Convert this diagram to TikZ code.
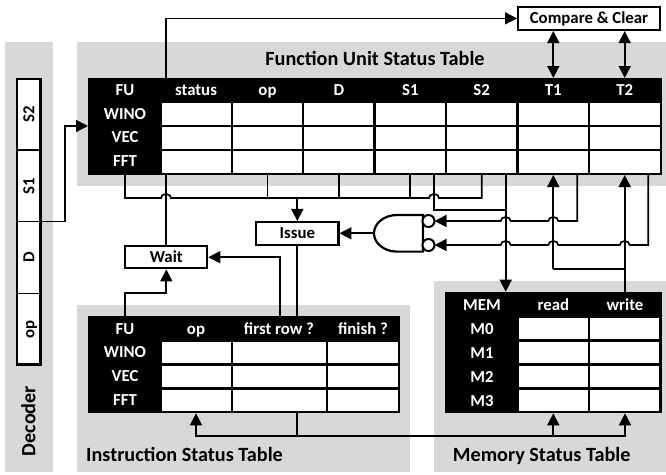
\documentclass[tikz,border=0pt]{standalone}
\usepackage{fontspec}
\setmainfont{Carlito}[BoldFont={Carlito Bold}]
\usetikzlibrary{arrows.meta,calc}
\definecolor{panel}{RGB}{216,216,216}
\tikzset{
  panelbox/.style={fill=panel,draw=none,inner sep=0pt,outer sep=0pt},
  wire/.style={line width=1.7pt,black},
  tipend/.style={wire,-{Triangle[length=12pt,width=12pt]}},
  tipboth/.style={wire,{Triangle[length=12pt,width=12pt]}-{Triangle[length=12pt,width=12pt]}},
  ctrlbox/.style={draw=black,line width=2.2pt,fill=white,inner sep=0pt,outer sep=1pt,text height=10.6pt,text depth=0pt,font=\fontsize{16.8}{17}\selectfont\bfseries},
  headtext/.style={white,inner sep=0pt,text height=10.6pt,text depth=0pt,font=\fontsize{16.8}{17}\selectfont\bfseries},
  titletext/.style={black,inner sep=0pt,text height=12.8pt,text depth=0pt,font=\fontsize{20.2}{21}\selectfont\bfseries},
  dectext/.style={black,inner sep=0pt,rotate=90,text height=10.6pt,text depth=0pt,font=\fontsize{16.8}{17}\selectfont\bfseries},
  blackbox/.style={fill=black,draw=none,inner sep=0pt,outer sep=0pt},
  cell/.style={fill=white,draw=none}
}
% hops over a vertical wire: #1 is the point of the crossing
\newcommand{\hopr}[1]{ -- ($(#1)+(-5,0)$) arc[start angle=180,end angle=360,x radius=5,y radius=4]}
\newcommand{\hopl}[1]{ -- ($(#1)+(5,0)$) arc[start angle=0,end angle=-180,x radius=5,y radius=4]}
\begin{document}
\begin{tikzpicture}[x=1pt,y=-1pt]
\useasboundingbox (0,0) rectangle (666,474);
\fill[white] (0,0) rectangle (666,474);
% panels
\fill[panelbox] (5,42) rectangle (53,472);
\fill[panelbox] (77,42) rectangle (666,186);
\fill[panelbox] (77,305) rectangle (410,472);
\fill[panelbox] (434,281) rectangle (666,472);
% FU table
\node[blackbox,minimum width=574pt,minimum height=97pt] (futab) at (375,126.5) {};
\foreach \xa/\xb in {161.7/230.7,233/302,304/373.3,375.7/445,447/516,518.5/588,590/660}
  \foreach \ya/\yb in {103/125,127/149,151/173}
    \fill[cell] (\xa,\ya) rectangle (\xb,\yb);
\foreach \n/\t/\x in {fa/FU/125,fb/status/196,fc/op/267.5,fd/D/339,fe/S1/410.3,ff/S2/481.7,fg/T1/553.3,fh/T2/624.7}
  \node[headtext] (\n) at (\x,90) {\t};
\node[headtext] (fw) at (125,114) {WINO};
\node[headtext] (fv) at (125,137.5) {VEC};
\node[headtext] (fft) at (125,161.5) {FFT};
% Instruction table
\node[blackbox,minimum width=312pt,minimum height=97.6pt] (intab) at (244,364.5) {};
\foreach \xa/\xb in {161.7/230.7,233/325.7,328.3/397.7}
  \foreach \ya/\yb in {341.7/363.3,365.7/387.3,389.7/411}
    \fill[cell] (\xa,\ya) rectangle (\xb,\yb);
\foreach \n/\t/\x in {ia/FU/125,ib/op/196,ic/first row ?/279,id/finish ?/363}
  \node[headtext] (\n) at (\x,329) {\t};
\node[headtext] (iw) at (125,352.5) {WINO};
\node[headtext] (iv) at (125,376.5) {VEC};
\node[headtext] (ift) at (125,400) {FFT};
% Memory table
\node[blackbox,minimum width=216.7pt,minimum height=121.6pt] (metab) at (553.35,352.5) {};
\foreach \xa/\xb in {519/587.7,590.3/659.3}
  \foreach \ya/\yb in {318.3/339.3,342/363,366/387,390/411}
    \fill[cell] (\xa,\ya) rectangle (\xb,\yb);
\foreach \n/\t/\x in {ma/MEM/482,mb/read/553.3,mc/write/625}
  \node[headtext] (\n) at (\x,305) {\t};
\foreach \n/\t/\y in {mz/M0/329,mo/M1/353,mt/M2/377,mh/M3/401}
  \node[headtext] (\n) at (482,\y) {\t};
% Titles
\node[titletext] (tfu) at (375,59) {Function Unit Status Table};
\node[titletext] (tis) at (184.5,455) {Instruction Status Table};
\node[titletext] (tms) at (541.7,455) {Memory Status Table};
\node[titletext,rotate=90] (tdec) at (29,421) {Decoder};
% Decoder
\draw[line width=2.2pt,fill=white] (17,79) rectangle (40.5,364.5);
\draw[wire] (17,150) -- (40.5,150) (17,221.5) -- (40.5,221.5) (17,293.5) -- (40.5,293.5);
\node[dectext] (ds2) at (29,114) {S2};
\node[dectext] (ds1) at (29,186) {S1};
\node[dectext] (dd) at (29,257.5) {D};
\node[dectext] (dop) at (29,329.5) {op};
\coordinate (dport) at (41,221.5);
% boxes
\node[ctrlbox,minimum width=142pt,minimum height=23.3pt] (cc) at (589,18.4) {Compare \& Clear};
\node[ctrlbox,minimum width=82.3pt,minimum height=22.7pt] (issue) at (297.3,233.3) {Issue};
\node[ctrlbox,minimum width=82pt,minimum height=22.3pt] (wait) at (166.3,257.2) {Wait};
% gate
\draw[line width=2.2pt,fill=white] (423,215) -- (397,215) arc[start angle=270,end angle=90,x radius=23,y radius=18.3] -- (423,251.6) -- cycle;
\coordinate (gateout) at (374,233.3);
\node[circle,draw,line width=2pt,fill=white,minimum size=12pt,inner sep=0pt,outer sep=0pt] (bubblea) at (428.5,221) {};
\node[circle,draw,line width=2pt,fill=white,minimum size=12pt,inner sep=0pt,outer sep=0pt] (bubbleb) at (428.5,245) {};
% ports
\coordinate (fustatus) at (166,78);
\coordinate (fustatusb) at (166,175);
\coordinate (fubusa) at (125,198);
\coordinate (fubusb) at (481.7,198);
\coordinate (crossa) at (166,198);
\coordinate (crossb) at (434,198);
\coordinate (feedb) at (434,175);
\coordinate (feedm) at (505.7,210);
\coordinate (crossc) at (505.7,221);
\coordinate (crossd) at (553.3,221);
\coordinate (crosse) at (505.7,245);
\coordinate (crossf) at (553.3,245);
\coordinate (crossg) at (624.7,245);
\coordinate (bottombus) at (297.3,435.7);
% connectors
\draw[tipend] (fustatus) |- (cc.west);
\draw[tipboth] (cc.south -| fg) -- (fg |- futab.north);
\draw[tipboth] (cc.south -| fh) -- (fh |- futab.north);
\draw[tipend] (dport) -- (65,221.5) -- (65,126) -- (futab.west |- 0,126);
% bus
\draw[wire] (fa |- futab.south) -- (fubusa) \hopr{crossa} \hopr{crossb} -- (fubusb) -- (ff |- futab.south);
\draw[wire] (fc |- futab.south) -- (fc |- fubusa) (fd |- futab.south) -- (fd |- fubusa) (fe |- futab.south) -- (fe |- fubusa);
\draw[tipend] (issue |- fubusa) -- (issue.north);
\draw[wire] (fustatusb) -- (wait.north -| fustatusb);
\draw[tipend] (gateout) -- (issue.east);
\draw[wire] (issue.south) -- (issue |- intab.north);
\draw[tipend] (280,315.7) -- (280,257.2) -- (wait.east);
\draw[tipend] (ia |- intab.north) -- (ia |- 0,293) -- (wait |- 0,293) -- (wait.south);
% S2 / status feedback
\draw[wire] (feedb) -- (feedb |- feedm) -- (feedm);
\draw[tipend] (feedm |- futab.south) -- (feedm |- metab.north);
\draw[tipend] (577.3,175) -- (577.3,221) \hopl{crossd} \hopl{crossc} -- (bubblea.east);
\draw[tipend] (648.3,175) -- (648.3,245) \hopl{crossg} \hopl{crossf} \hopl{crosse} -- (bubbleb.east);
\draw[tipend] (fg |- 0,269) -- (fg |- futab.south);
\draw[wire] (fg |- 0,269) -- (fh |- 0,269);
\draw[tipend] (fh |- metab.north) -- (fh |- futab.south);
% bottom bus
\draw[wire] (bottombus) -- (bottombus |- intab.south);
\draw[tipend] (bottombus) -- (ib |- bottombus) -- (ib |- intab.south);
\draw[tipend] (bottombus) -- (mb |- bottombus) -- (mb |- metab.south);
\draw[tipend] (mb |- bottombus) -- (mc |- bottombus) -- (mc |- metab.south);
\end{tikzpicture}
\end{document}
